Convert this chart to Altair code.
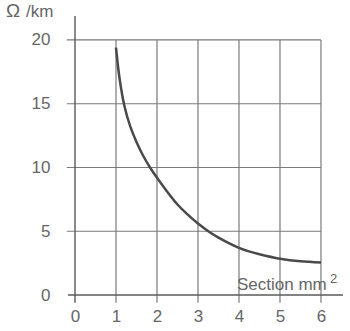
import altair as alt
import pandas as pd

# curve data
section = [1.0, 1.05, 1.1, 1.2, 1.35, 1.5, 1.65, 1.83, 2.0, 2.25, 2.5, 2.75, 3.0, 3.25, 3.5, 4.0, 4.5, 5.0, 5.5, 6.0]
resist = [19.4, 17.9, 16.7, 14.9, 13.2, 12.0, 11.0, 10.0, 9.2, 8.1, 7.1, 6.3, 5.6, 5.0, 4.5, 3.7, 3.2, 2.85, 2.65, 2.55]

x_ticks = [0, 1, 2, 3, 4, 5, 6]
y_ticks = [0, 5, 10, 15, 20]
x_grid = [1, 2, 3, 4, 5, 6]
y_grid = [5, 10, 15, 20]

XMIN, XMAX = -0.317, 6.537
YMIN, YMAX = -0.784, 21.88
GRID = "#7a7a7a"
TXT = "#666666"
FONT = "Liberation Sans"

xs = alt.Scale(domain=[XMIN, XMAX], nice=False, zero=False)
ys = alt.Scale(domain=[YMIN, YMAX], nice=False, zero=False)

curve_df = pd.DataFrame({"x": section, "y": resist})
hgrid = pd.DataFrame({"y": y_grid, "x1": [-0.2] * len(y_grid), "x2": [6] * len(y_grid)})
vgrid = pd.DataFrame({"x": x_grid, "y1": [-0.6] * len(x_grid), "y2": [20] * len(x_grid)})
xaxis = pd.DataFrame({"y": [0], "x1": [-0.17], "x2": [XMAX]})
yaxis = pd.DataFrame({"x": [0], "y1": [-0.6], "y2": [YMAX]})
one = pd.DataFrame({"x": [0], "y": [0]})

base_x_axis = alt.Axis(values=x_ticks, domain=False, ticks=False, grid=False, title=None,
                       labelFont=FONT, labelFontSize=17, labelColor=TXT,
                       labelPadding=3, labelBaseline="top")
base_y_axis = alt.Axis(values=y_ticks, domain=False, ticks=False, grid=False, title=None,
                       labelFont=FONT, labelFontSize=17, labelColor=TXT,
                       labelPadding=12, labelBaseline="middle")

hg = alt.Chart(hgrid).mark_rule(color=GRID, strokeWidth=1.2).encode(
    x=alt.X("x1:Q", scale=xs, axis=base_x_axis), x2="x2:Q",
    y=alt.Y("y:Q", scale=ys, axis=base_y_axis))
vg = alt.Chart(vgrid).mark_rule(color=GRID, strokeWidth=1.2).encode(
    x=alt.X("x:Q", scale=xs), y=alt.Y("y1:Q", scale=ys), y2="y2:Q")
xa = alt.Chart(xaxis).mark_rule(color="#5a5a5a", strokeWidth=1.4).encode(
    x=alt.X("x1:Q", scale=xs), x2="x2:Q", y=alt.Y("y:Q", scale=ys))
ya = alt.Chart(yaxis).mark_rule(color="#5a5a5a", strokeWidth=1.4).encode(
    x=alt.X("x:Q", scale=xs), y=alt.Y("y1:Q", scale=ys), y2="y2:Q")
curve = alt.Chart(curve_df).mark_line(color="#4a4a4a", strokeWidth=2.5, interpolate="natural").encode(
    x=alt.X("x:Q", scale=xs), y=alt.Y("y:Q", scale=ys))

omega = alt.Chart(one).mark_text(text="Ω", font=FONT, fontSize=19, color=TXT,
                                 align="left", baseline="alphabetic").encode(
    x=alt.value(-56), y=alt.value(1))
unit = alt.Chart(one).mark_text(text="/km", font=FONT, fontSize=17, color=TXT,
                                align="left", baseline="alphabetic").encode(
    x=alt.value(-36), y=alt.value(1))
sec = alt.Chart(one).mark_text(text="Section mm", font=FONT, fontSize=17, color=TXT,
                               align="left", baseline="alphabetic").encode(
    x=alt.value(175), y=alt.value(274))
sup = alt.Chart(one).mark_text(text="2", font=FONT, fontSize=13, color=TXT,
                               align="left", baseline="alphabetic").encode(
    x=alt.value(268), y=alt.value(267))

chart = alt.layer(hg, vg, xa, ya, curve, omega, unit, sec, sup).properties(
    width=281, height=289,
    autosize=alt.AutoSizeParams(type="none"),
    padding={"left": 62, "top": 16, "right": 7, "bottom": 26},
    background="white",
).configure_view(stroke=None)

chart.save("out.html", embed_options={"renderer": "svg", "actions": False})
